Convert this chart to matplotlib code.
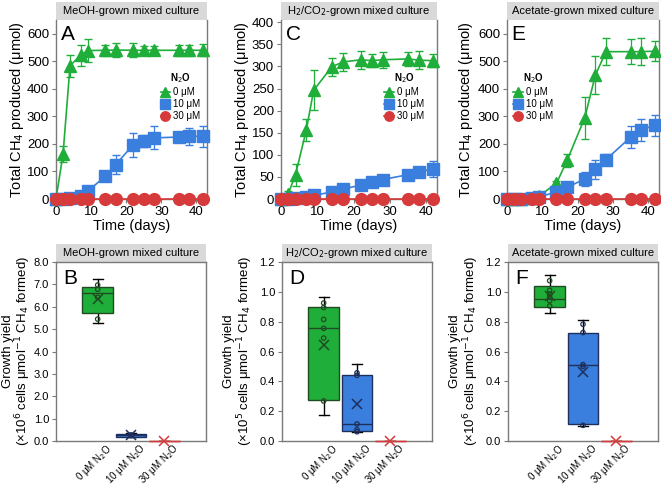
import numpy as np
import matplotlib
matplotlib.use('Agg')
import matplotlib.pyplot as plt
import matplotlib.transforms as mtrans
from matplotlib.patches import Rectangle

plt.rcParams['font.family'] = ['Liberation Sans', 'DejaVu Sans']

# time course (days)
days = [0, 2, 4, 7, 9, 14, 17, 22, 25, 28, 35, 38, 42]

# A: MeOH-grown
meoh_0 = [0, 163, 484, 522, 539, 540, 541, 540, 540, 540, 540, 540, 540]
meoh_0_err = [0, 30, 40, 38, 42, 20, 25, 25, 15, 15, 20, 20, 22]
meoh_10 = [0, 0, 2, 10, 28, 82, 125, 197, 212, 222, 225, 227, 228]
meoh_10_err = [0, 0, 2, 5, 8, 10, 36, 44, 22, 42, 5, 30, 38]
meoh_30 = [0] * 13

# C: H2/CO2-grown
h2_0 = [0, 12, 55, 157, 246, 299, 310, 315, 313, 315, 317, 314, 313]
h2_0_err = [0, 5, 25, 25, 45, 20, 20, 20, 15, 18, 15, 20, 15]
h2_10 = [0, 0, 2, 5, 8, 16, 23, 31, 38, 44, 55, 62, 68]
h2_10_err = [0, 0, 1, 2, 3, 4, 5, 6, 7, 10, 8, 10, 18]
h2_30 = [0] * 13

# E: acetate-grown
ac_0 = [0, 0, 0, 3, 10, 57, 140, 295, 450, 535, 535, 535, 537]
ac_0_err = [0, 0, 0, 2, 5, 10, 25, 76, 70, 50, 45, 50, 35]
ac_10 = [0, 0, 0, 3, 8, 25, 42, 73, 108, 143, 225, 252, 268]
ac_10_err = [0, 0, 0, 2, 3, 8, 10, 25, 35, 20, 40, 40, 38]
ac_30 = [0] * 13

# growth yield box stats: whislo, q1, med, q3, whishi, mean
cats = ['0 μM N$_2$O', '10 μM N$_2$O', '30 μM N$_2$O']
meoh_box = [[5.27, 5.7, 6.62, 6.9, 7.22, 6.35],
            [0.18, 0.2, 0.25, 0.33, 0.36, 0.26],
            [0, 0, 0, 0, 0, 0]]
meoh_pts = [[6.97, 6.78, 6.42, 5.45], [0.27, 0.24], []]
h2_box = [[0.175, 0.275, 0.755, 0.895, 0.965, 0.643],
          [0.06, 0.068, 0.114, 0.445, 0.518, 0.245],
          [0, 0, 0, 0, 0, 0]]
h2_pts = [[0.925, 0.895, 0.815, 0.755, 0.69, 0.268],
          [0.457, 0.44, 0.114, 0.075, 0.062], []]
ac_box = [[0.86, 0.90, 0.955, 1.036, 1.11, 0.973],
          [0.098, 0.115, 0.512, 0.727, 0.81, 0.465],
          [0, 0, 0, 0, 0, 0]]
ac_pts = [[1.075, 1.01, 0.985, 0.97, 0.94, 0.905],
          [0.783, 0.727, 0.512, 0.50, 0.105], []]

green = '#1fae3a'
blue = '#3a7fde'
red = '#d63a3a'
frame = '#7a7a7a'
box_cols = [green, blue, red]
box_edges = ['#1f4a22', '#1e2f5c', red]


def title_box(ax, text):
    ax.add_patch(Rectangle((0, 1), 1, 0.1, transform=ax.transAxes,
                           facecolor='#d9d9d9', edgecolor='none', clip_on=False))
    ax.text(0.5, 1.05, text, transform=ax.transAxes, ha='center',
            va='center', fontsize=8)


def style(ax, size):
    for s in ax.spines.values():
        s.set_color(frame)
        s.set_linewidth(1.0)
    ax.tick_params(colors='black', labelsize=size, length=3, color=frame, pad=2)


def time_panel(ax, title, letter, y0, e0, y10, e10, y30, ymax, yticks, leg_xy, lab_x):
    h0 = ax.errorbar(days, y0, yerr=e0, color=green, marker='^', ms=9, lw=1.2,
                     elinewidth=0.9, capsize=3, clip_on=False, zorder=4)
    h1 = ax.errorbar(days, y10, yerr=e10, color=blue, marker='s', ms=8.5, lw=1.2,
                     elinewidth=0.9, capsize=3, clip_on=False, zorder=5)
    h2, = ax.plot(days, y30, color=red, marker='o', ms=8.5, lw=1.2,
                  clip_on=False, zorder=6)
    ax.set_xlim(0, 43)
    ax.set_ylim(0, ymax)
    ax.set_xticks([0, 10, 20, 30, 40])
    ax.set_yticks(yticks)
    ax.set_xlabel('Time (days)', fontsize=10.5, labelpad=1)
    ax.set_ylabel('Total CH$_4$ produced (μmol)', fontsize=10.5)
    ax.yaxis.set_label_coords(lab_x, 0.5)
    style(ax, 9.5)
    ax.spines['top'].set_visible(False)
    title_box(ax, title)
    ax.text(0.03, 0.97, letter, transform=ax.transAxes, ha='left', va='top',
            fontsize=15)
    leg = ax.legend([h0[0], h1[0], h2], ['0 μM', '10 μM', '30 μM'], title='N$_2$O',
                    loc='upper left', bbox_to_anchor=leg_xy,
                    frameon=False, fontsize=7, title_fontsize=7,
                    handlelength=1.0, handletextpad=0.3, labelspacing=0.2,
                    borderpad=0, markerscale=0.8)
    leg.get_title().set_fontweight('bold')


def box_panel(ax, title, letter, stats, pts, ymax, yticks, exp, lab_x):
    positions = [1, 2, 3]
    for i, (st, p) in enumerate(zip(stats, pts)):
        d = dict(whislo=st[0], q1=st[1], med=st[2], q3=st[3], whishi=st[4],
                 mean=st[5], label='')
        ec = box_edges[i]
        ax.bxp([d], positions=[positions[i]], widths=0.92, patch_artist=True,
               showmeans=True, showfliers=False,
               boxprops=dict(facecolor=box_cols[i], edgecolor=ec, linewidth=1,
                             zorder=3, clip_on=False),
               medianprops=dict(color=ec, linewidth=1, zorder=4, clip_on=False),
               whiskerprops=dict(color='black', linewidth=1),
               capprops=dict(color='black', linewidth=1), capwidths=0.3,
               meanprops=dict(marker='x', markeredgecolor=ec,
                              markersize=7, markeredgewidth=1.1, zorder=6,
                              clip_on=False))
        if p:
            ax.scatter([positions[i]] * len(p), p, s=10, facecolor='none',
                       edgecolor=ec, linewidth=0.9, zorder=5)
    ax.set_xlim(-0.25, 4.25)
    ax.set_ylim(0, ymax)
    ax.set_yticks(yticks)
    ax.set_yticklabels(['%.1f' % v for v in yticks])
    ax.set_xticks([])
    # rotated category labels, shifted right of the box centre
    trans = mtrans.blended_transform_factory(ax.transData, ax.transAxes) + \
        mtrans.ScaledTranslation(0.08, -0.005, fig.dpi_scale_trans)
    for x, c in zip(positions, cats):
        ax.text(x, 0, c, transform=trans, rotation=45, ha='right', va='top',
                rotation_mode='anchor', fontsize=7)
    ax.set_ylabel('Growth yield\n(×10$^{%d}$ cells μmol$^{-1}$ CH$_4$ formed)' % exp,
                  fontsize=9.5, linespacing=1.0)
    ax.yaxis.set_label_coords(lab_x, 0.5)
    style(ax, 8)
    title_box(ax, title)
    ax.text(0.05, 0.96, letter, transform=ax.transAxes, ha='left', va='top',
            fontsize=15)


fig = plt.figure(figsize=(6.61, 4.87), dpi=100)
W, H = 661.0, 487.0


def rect(l, r, t, b):
    return [l / W, (H - b) / H, (r - l) / W, (b - t) / H]


axA = fig.add_axes(rect(56, 207, 20, 199))
axC = fig.add_axes(rect(281, 437, 20, 199))
axE = fig.add_axes(rect(507, 659, 20, 199))
axB = fig.add_axes(rect(56, 206, 262, 441))
axD = fig.add_axes(rect(282, 432, 262, 441))
axF = fig.add_axes(rect(508, 658, 262, 441))

time_panel(axA, 'MeOH-grown mixed culture', 'A',
           meoh_0, meoh_0_err, meoh_10, meoh_10_err, meoh_30, 650,
           [0, 100, 200, 300, 400, 500, 600], (0.66, 0.74), -0.2)
time_panel(axC, 'H$_2$/CO$_2$-grown mixed culture', 'C',
           h2_0, h2_0_err, h2_10, h2_10_err, h2_30, 405,
           [0, 50, 100, 150, 200, 250, 300, 350, 400], (0.63, 0.74), -0.19)
time_panel(axE, 'Acetate-grown mixed culture', 'E',
           ac_0, ac_0_err, ac_10, ac_10_err, ac_30, 650,
           [0, 100, 200, 300, 400, 500, 600], (0.01, 0.74), -0.21)

box_panel(axB, 'MeOH-grown mixed culture', 'B',
          meoh_box, meoh_pts, 8.0, [0, 1, 2, 3, 4, 5, 6, 7, 8], 6, -0.15)
box_panel(axD, 'H$_2$/CO$_2$-grown mixed culture', 'D',
          h2_box, h2_pts, 1.2, [0, 0.2, 0.4, 0.6, 0.8, 1.0, 1.2], 5, -0.18)
box_panel(axF, 'Acetate-grown mixed culture', 'F',
          ac_box, ac_pts, 1.2, [0, 0.2, 0.4, 0.6, 0.8, 1.0, 1.2], 6, -0.18)

fig.savefig('out.png', dpi=100)
